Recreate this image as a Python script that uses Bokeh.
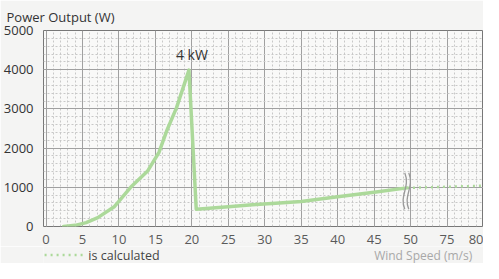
import numpy as np
from bokeh.plotting import figure
from bokeh.layouts import column
from bokeh.models import FixedTicker, Label, Range1d, Title
from bokeh.core.properties import value
from bokeh.embed import file_html
from bokeh.resources import INLINE

# ---- data ----
wind_measured = [2.4, 4, 5.5, 7.1, 9.4, 11.6, 13.9, 15.5, 16.6, 17.9, 19.6,
                 20.6, 21.5, 25, 28.3, 32, 35, 40, 45, 49.5]
power_measured = [0, 30, 100, 227, 512, 1000, 1407, 1895, 2463, 3032, 3990,
                  440, 455, 505, 553, 600, 640, 757, 874, 985]
wind_calculated = [49.5, 80]
power_calculated = [985, 1040]
x_tick_values = [0, 5, 10, 15, 20, 25, 30, 35, 40, 45, 50, 75, 80]
y_tick_values = [0, 1000, 2000, 3000, 4000, 5000]
axis_break = [50]
peak_label = "4 kW"

# broken axis: 0..50 linear, then 75 and 80 at one step each
seg_in = [0, 50, 75, 80]
seg_out = [0, 10, 11, 12]
def pos(v):
    return list(np.interp(v, seg_in, seg_out))

GREEN = "#acd99a"
FONT = "Open Sans"
BG = "#f4f4f3"

p = figure(width=483, height=246, output_backend="svg", toolbar_location=None,
           x_range=Range1d(-0.07, 12.0), y_range=Range1d(0, 5000),
           min_border_left=37, min_border_right=0, min_border_top=28,
           min_border_bottom=20)
p.background_fill_color = "#f9f9f8"
p.border_fill_color = BG
p.outline_line_color = "#777777"
p.outline_line_width = 1

p.add_layout(Title(text="Power Output (W)", align="left", offset=-37,
                   text_font=FONT, text_font_size="13px", text_font_style="normal",
                   text_color="#333333", standoff=10), "above")

xt = pos(x_tick_values)
p.xaxis.ticker = FixedTicker(ticks=xt, minor_ticks=list(np.arange(0, 12.01, 0.2)))
p.xaxis.major_label_overrides = {float(t): str(v) for t, v in zip(xt, x_tick_values)}
p.yaxis.ticker = FixedTicker(ticks=y_tick_values, minor_ticks=list(range(0, 5001, 200)))

for ax in (p.xaxis, p.yaxis):
    ax.axis_line_color = None
    ax.major_tick_line_color = None
    ax.minor_tick_line_color = None
    ax.major_label_text_font = FONT
    ax.major_label_text_font_size = "13px"
p.xaxis.major_label_text_color = "#5a5a5a"
p.yaxis.major_label_text_color = "#333333"
p.xaxis.major_label_standoff = 2
p.yaxis.major_label_standoff = 4

for g in (p.xgrid, p.ygrid):
    g.grid_line_color = "#a0a0a0"
    g.grid_line_width = 1
    g.minor_grid_line_color = "#c8c8c8"
    g.minor_grid_line_dash = "2 2"
    g.minor_grid_line_width = 1

# measured curve
p.line(pos(wind_measured), power_measured, line_color=GREEN, line_width=3.5,
       line_join="round", line_cap="round")
# calculated (dotted)
p.line(pos(wind_calculated), power_calculated, line_color=GREEN,
       line_width=2.5, line_dash="2 4")

# break marks at axis break
bx = pos(axis_break)[0]
for off in (-0.16, -0.05):
    x0 = bx + off
    p.bezier(x0=[x0], y0=[1370], x1=[x0], y1=[440],
             cx0=[x0 + 0.16], cy0=[1000], cx1=[x0 - 0.16], cy1=[800],
             line_color="#9a9a9a", line_width=1.3)

# peak annotation
ipk = int(np.argmax(power_measured))
p.add_layout(Label(x=pos([20])[0], y=power_measured[ipk] + 160, text=peak_label,
                   text_align="center", text_baseline="bottom",
                   text_font=FONT, text_font_size="14px", text_color="#333333"))

# ---- bottom row: key and axis caption ----
k = figure(width=483, height=17, output_backend="svg", toolbar_location=None,
           x_range=p.x_range, y_range=Range1d(0, 1),
           min_border_left=37, min_border_right=0, min_border_top=0,
           min_border_bottom=0)
k.axis.visible = False
k.grid.visible = False
k.outline_line_color = None
k.background_fill_color = BG
k.border_fill_color = BG
k.line([-0.04, 1.05], [0.5, 0.5], line_color=GREEN, line_width=2.5,
       line_dash="2 4")
k.text(x=[1.16], y=[0.5], text=["is calculated"], text_align="left",
       text_baseline="middle", text_font=value(FONT), text_font_size="12.5px",
       text_color="#444444")
k.text(x=[9.0], y=[0.5], text=["Wind Speed (m/s)"], text_align="left",
       text_baseline="middle", text_font=value(FONT), text_font_size="12px",
       text_color="#a8a8a8")

layout = column(p, k, spacing=0)
open("out.html", "w").write(file_html(layout, INLINE))
